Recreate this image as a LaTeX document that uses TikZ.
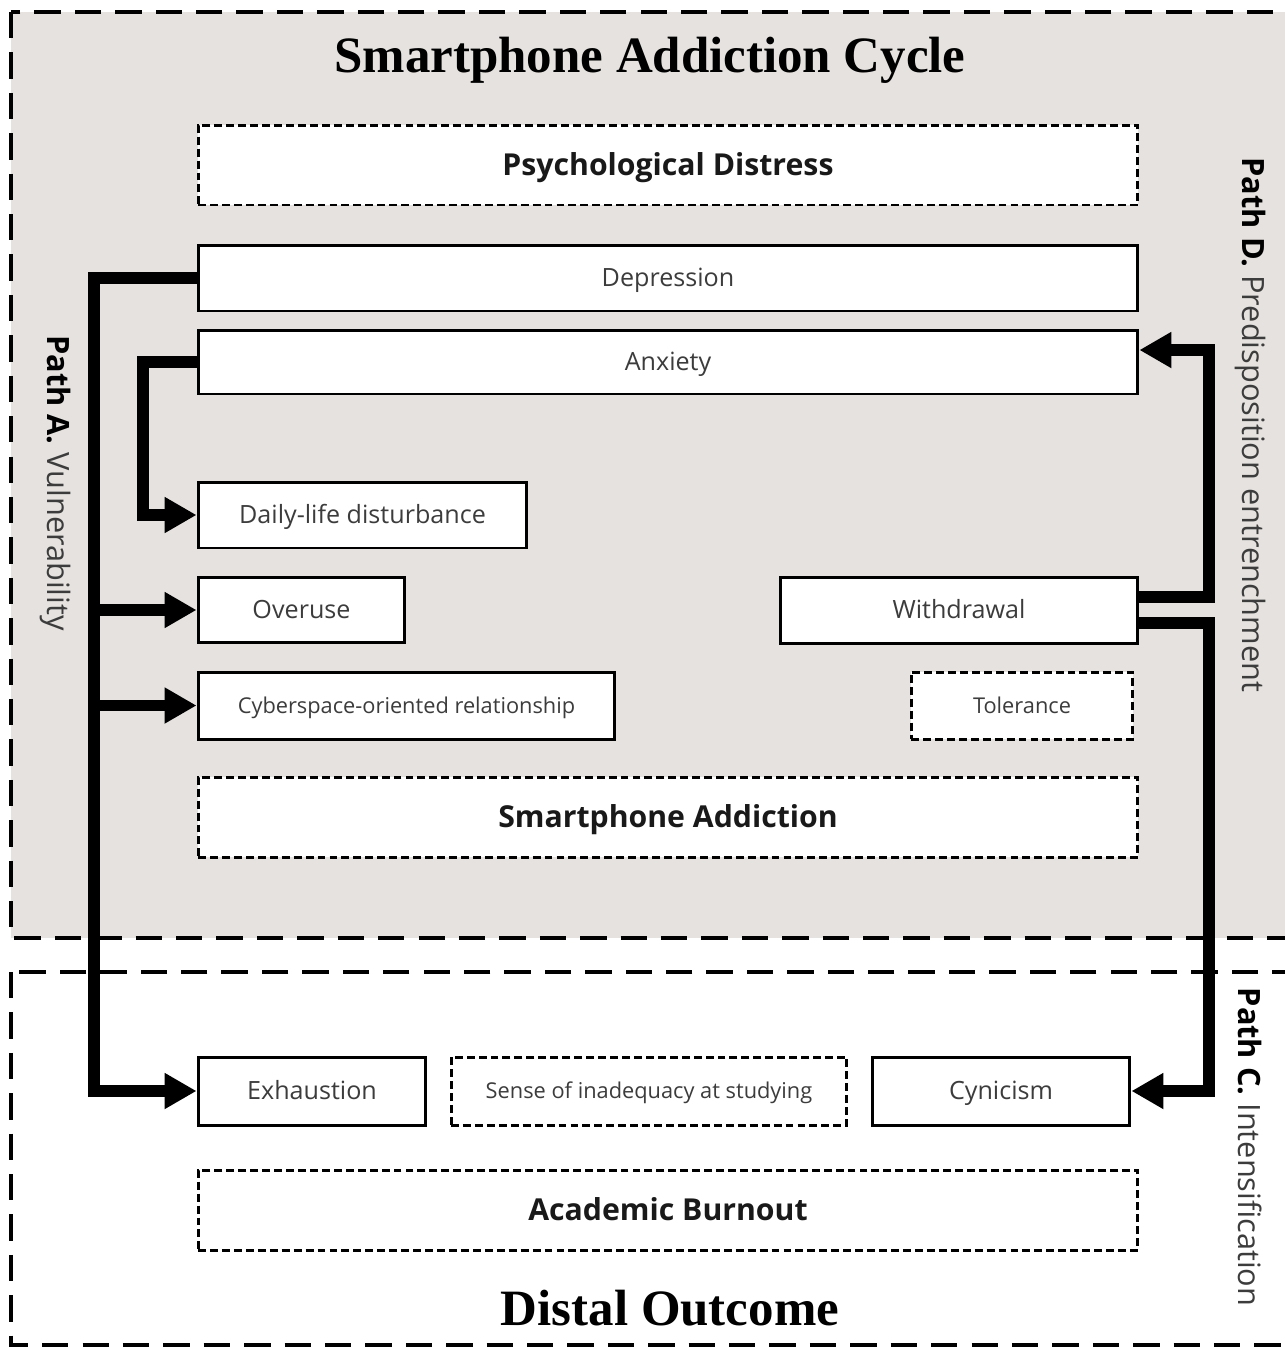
\documentclass[tikz,border=0pt]{standalone}
\usepackage{fontspec}
\setmainfont{Liberation Serif}
\newfontfamily\labelfont{Open Sans}
\usetikzlibrary{arrows.meta}
\definecolor{cyclegray}{RGB}{229,226,223}
\definecolor{labelgray}{RGB}{60,60,60}

\begin{document}
\begin{tikzpicture}[x=0.02cm, y=-0.02cm,
    frame/.style ={line width=2pt, dash pattern=on 15pt off 8pt},
    title/.style ={anchor=base, font=\bfseries\fontsize{29}{34}\selectfont},
    factor/.style ={draw, line width=1.7pt, fill=white, inner sep=0pt, text=labelgray,
                    text height=10.2pt, text depth=0pt,
                    font=\labelfont\fontsize{14.3}{17}\selectfont},
    minor/.style ={factor, text height=8.85pt, font=\labelfont\fontsize{12.4}{15}\selectfont},
    dminor/.style ={minor, dash pattern=on 4.5pt off 2.3pt},
    latent/.style ={draw, line width=1.7pt, dash pattern=on 4.5pt off 2.3pt, fill=white,
                    inner sep=0pt, minimum width=18.8cm, minimum height=1.6cm,
                    text height=12pt, text depth=0pt, text=black!90,
                    font=\labelfont\bfseries\fontsize{17.2}{20}\selectfont},
    pathlabel/.style ={rotate=-90, text=labelgray, font=\labelfont\fontsize{17.5}{20}\selectfont},
    link/.style ={line width=6.6pt, -{Triangle[length=0.64cm, width=0.68cm]}}]

   \useasboundingbox (0,0) rectangle (1285,1347);

   % frames
   \fill[cyclegray] (11,12) rectangle (1292,938);
   \draw[frame] (11,12) rectangle (1292,938);
   \draw[frame] (11,972) rectangle (1292,1345);

   \node[title] (cycle) at (650,72) {Smartphone Addiction Cycle};
   \node[title] (distal) at (670,1325) {Distal Outcome};

   \node[pathlabel] (pa) at (55,483) {\textbf{\color{black}Path A.} Vulnerability};
   \node[pathlabel] (pd) at (1250,425) {\textbf{\color{black}Path D.} Predisposition entrenchment};
   \node[pathlabel] (pc) at (1250,1147) {\textbf{\color{black}Path C.} Intensification};

   \node[latent] (psy) at (668,165) {Psychological Distress};
   \node[factor, minimum width=18.8cm, minimum height=1.32cm] (dep) at (668,278) {Depression};
   \node[factor, minimum width=18.8cm, minimum height=1.28cm] (anx) at (668,362) {Anxiety};
   \node[factor, minimum width=6.58cm, minimum height=1.32cm] (dld) at (362.5,515) {Daily-life disturbance};
   \node[factor, minimum width=4.14cm, minimum height=1.3cm] (ovr) at (301.5,610) {Overuse};
   \node[factor, minimum width=7.16cm, minimum height=1.32cm] (wdr) at (959,610) {Withdrawal};
   \node[minor, minimum width=8.34cm, minimum height=1.34cm] (cyb) at (406.5,705.5) {Cyberspace-oriented relationship};
   \node[dminor, minimum width=4.44cm, minimum height=1.34cm] (tol) at (1022,705.5) {Tolerance};
   \node[latent] (sa) at (668,817) {Smartphone Addiction};

   \node[factor, minimum width=4.56cm, minimum height=1.36cm] (exh) at (312,1091) {Exhaustion};
   \node[dminor, minimum width=7.92cm, minimum height=1.36cm] (sia) at (649,1091) {Sense of inadequacy at studying};
   \node[factor, minimum width=5.16cm, minimum height=1.36cm] (cyn) at (1001,1091) {Cynicism};
   \node[latent] (ab) at (668,1210) {Academic Burnout};

   \coordinate (spineA) at (94,0);
   \coordinate (spineB) at (143,0);
   \coordinate (spineD) at (1209,0);
   \coordinate (anxin) at ([yshift=0.24cm]anx.east);

   \draw[link] (dep.west) -- (dep.west -| spineA) |- (exh.west);
   \draw[link] (ovr.west -| spineA) -- (ovr.west);
   \draw[link] (cyb.west -| spineA) -- (cyb.west);
   \draw[link] (anx.west) -- (anx.west -| spineB) |- (dld.west);
   \draw[link] ([yshift=0.26cm]wdr.east) -| (spineD |- anxin) -- (anxin);
   \draw[link] ([yshift=-0.26cm]wdr.east) -| (spineD |- cyn.east) -- (cyn.east);

\end{tikzpicture}
\end{document}
